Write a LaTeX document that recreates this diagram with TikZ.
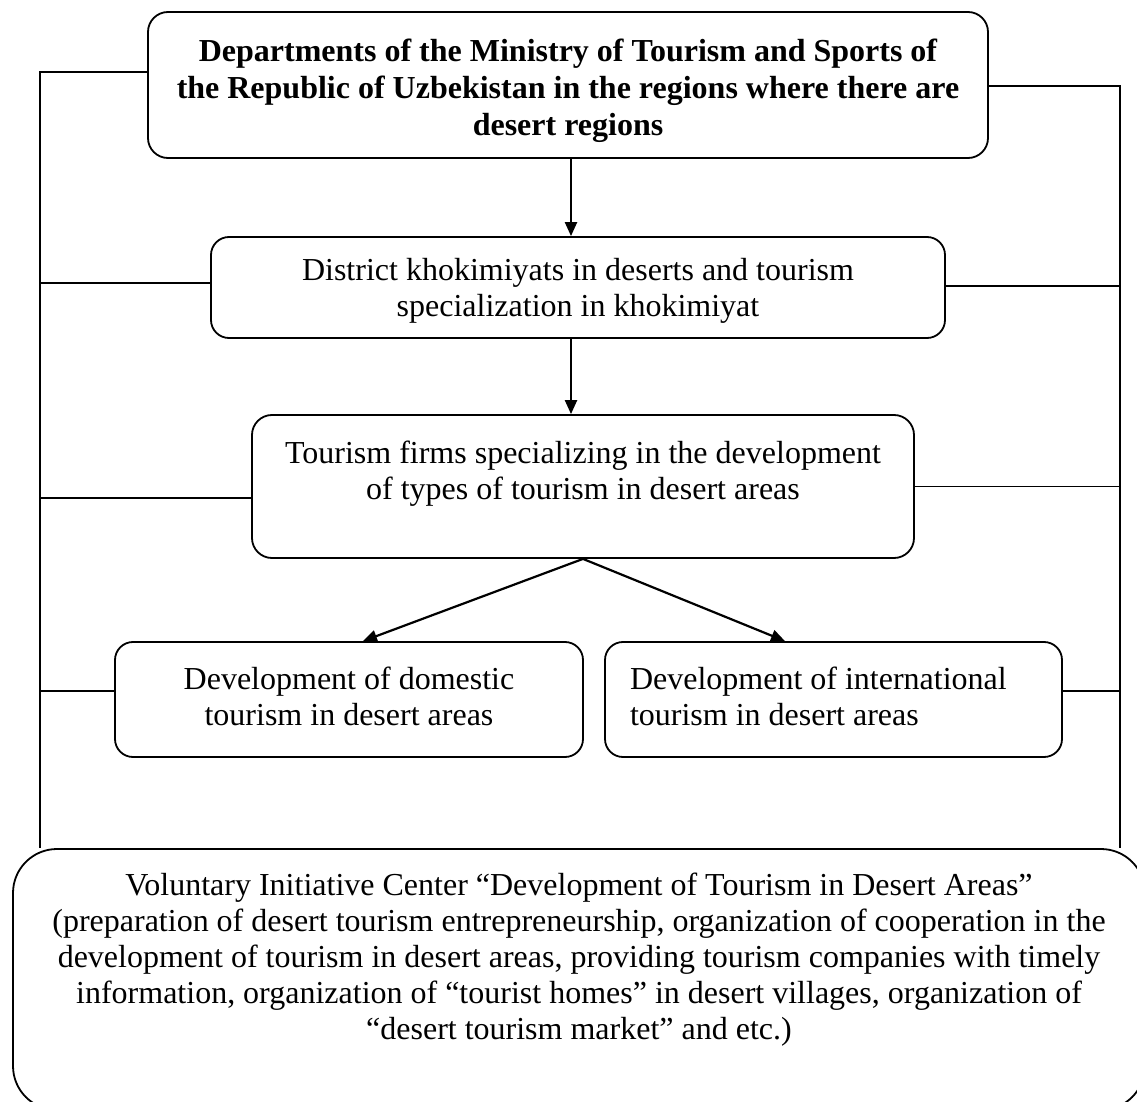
\documentclass[tikz,border=0pt]{standalone}
\usepackage{fontspec}
\setmainfont{Liberation Serif}
\usetikzlibrary{arrows.meta}
\begin{document}
\begin{tikzpicture}[x=0.5pt,y=-0.5pt,
  box/.style={draw, line width=0.9pt, rounded corners=10pt, align=center,
    font=\fontsize{16}{18}\selectfont, inner sep=0pt},
  link/.style={line width=0.75pt},
  arr/.style={line width=1.1pt, -{Triangle[length=7pt,width=6pt]}}]
\useasboundingbox (0,0) rectangle (1137,1102);
\clip (0,0) rectangle (1137,1102);

\node[box, font=\fontsize{16}{18.3}\selectfont\bfseries, minimum width=420pt, minimum height=73pt] (top) at (568,85)
  {\rule{0pt}{17pt}Departments of the Ministry of Tourism and Sports of\\the Republic of Uzbekistan in the regions where there are\\desert regions};
\node[box, rounded corners=9pt, minimum width=367pt, minimum height=50.5pt] (district) at (578,287.5)
  {\rule{0pt}{14pt}District khokimiyats in deserts and tourism\\specialization in khokimiyat};
\node[box, minimum width=331pt, minimum height=71.5pt] (firms) at (583,486.5)
  {Tourism firms specializing in the development\\of types of tourism in desert areas\\[-7pt]\strut};
\node[box, rounded corners=9pt, minimum width=234pt, minimum height=57.5pt] (domestic) at (349,699.5)
  {Development of domestic\\tourism in desert areas\\[-20.5pt]\strut};
\node[box, rounded corners=9pt, align=flush left, inner xsep=12.5pt, text width=203.5pt, minimum height=57.5pt] (international) at (833.5,699.5)
  {Development of international\\tourism in desert areas\\[-20.5pt]\strut};
\node[box, rounded corners=22pt, minimum width=566pt, minimum height=130.5pt] (bottom) at (579,979.5)
  {Voluntary Initiative Center ``Development of Tourism in Desert Areas''\\
   (preparation of desert tourism entrepreneurship, organization of cooperation in the\\
   development of tourism in desert areas, providing tourism companies with timely\\
   information, organization of ``tourist homes'' in desert villages, organization of\\
   ``desert tourism market'' and etc.)\\\strut};

% arrows
\coordinate (ax) at (571,0);
\coordinate (dtip) at (363,0);
\coordinate (itip) at (785,0);
\draw[arr] (top.south -| ax) -- (district.north -| ax);
\draw[arr] (district.south -| ax) -- (firms.north -| ax);
\draw[arr] (firms.south) -- (domestic.north -| dtip);
\draw[arr] (firms.south) -- (international.north -| itip);

% side connectors
\coordinate (L) at (40,0);
\coordinate (R) at (1120,0);
\path ([yshift=6.5pt]top.west) coordinate (tl)
      ([yshift=2.25pt]district.west) coordinate (dl)
      ([yshift=-5.75pt]firms.west) coordinate (fl)
      ([yshift=4.25pt]domestic.west) coordinate (ml)
      ([yshift=-0.5pt]top.east) coordinate (tr)
      ([yshift=0.75pt]district.east) coordinate (dr)
      (firms.east) coordinate (fr)
      ([yshift=4.25pt]international.east) coordinate (ir);
\draw[link] (tl) -| (bottom.north -| L);
\draw[link] (dl) -- (dl -| L);
\draw[link] (fl) -- (fl -| L);
\draw[link] (ml) -- (ml -| L);
\draw[link] (tr) -| (bottom.north -| R);
\draw[link] (dr) -- (dr -| R);
\draw[link] (fr) -- (fr -| R);
\draw[link] (ir) -- (ir -| R);
\end{tikzpicture}
\end{document}
